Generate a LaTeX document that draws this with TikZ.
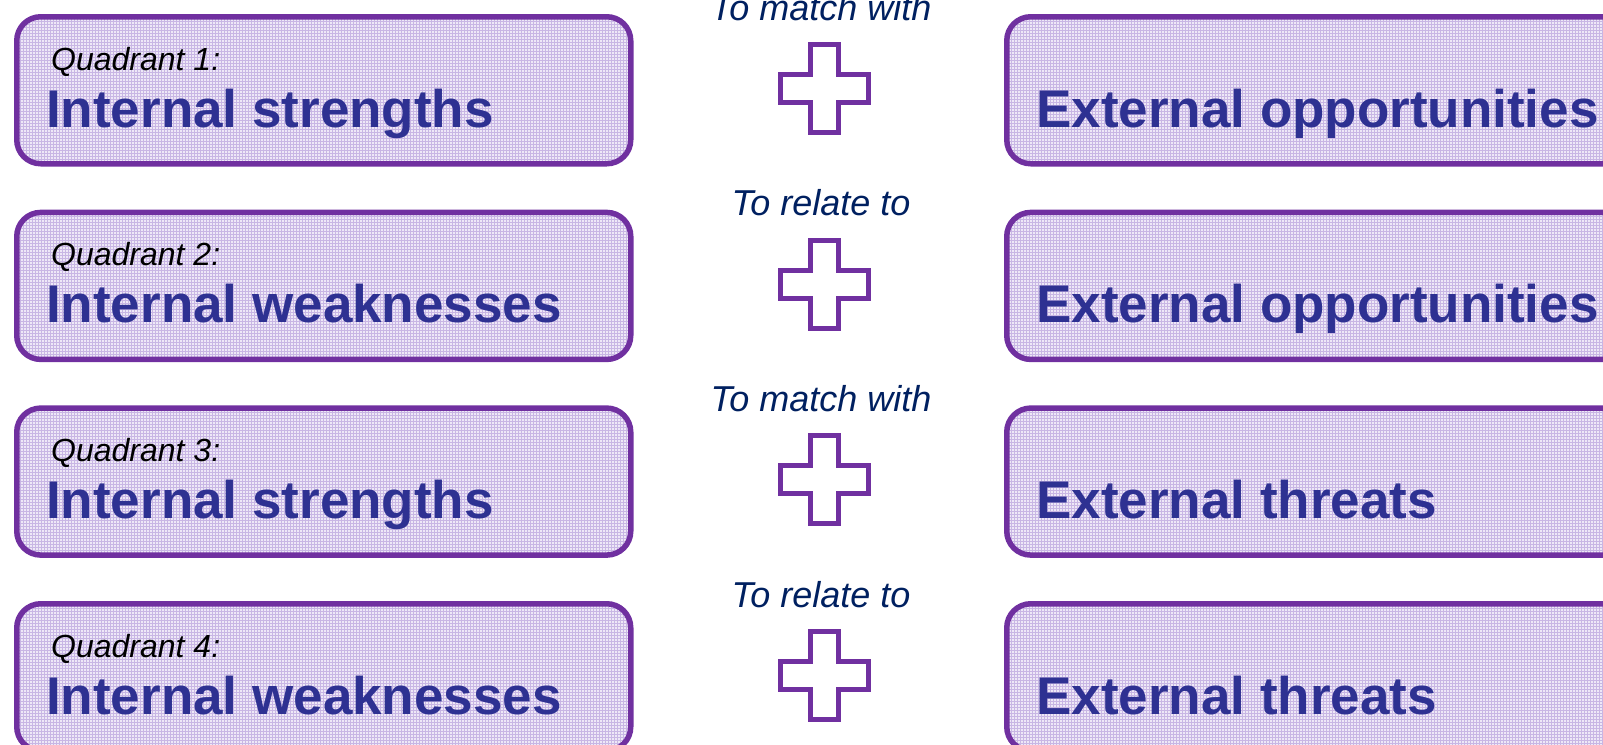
\documentclass[tikz,border=0pt]{standalone}
\usepackage{fontspec}
\setmainfont{Liberation Sans}
\definecolor{boxpurple}{RGB}{112,48,160}
\definecolor{boxfill}{RGB}{238,232,247}
\definecolor{gridc}{RGB}{200,182,228}
\definecolor{maintext}{RGB}{46,49,146}
\definecolor{labeltext}{RGB}{0,32,96}
\tikzset{
  qbox/.style={draw=boxpurple, line width=5.5pt, rounded corners=24pt, fill=boxfill,
    anchor=north west, inner sep=0pt, minimum height=147pt,
    path picture={\draw[gridc, line width=0.9pt] (path picture bounding box.south west) grid[step=3pt] (path picture bounding box.north east);}},
  quadtxt/.style={anchor=base west, inner sep=0pt, font=\fontsize{32}{36}\selectfont\itshape, text=black},
  bigtxt/.style={anchor=base west, inner sep=0pt, font=\fontsize{53}{60}\selectfont\bfseries, text=maintext},
  linktxt/.style={anchor=base, inner sep=0pt, font=\fontsize{36}{42}\selectfont\itshape, text=labeltext},
  plusline/.style={draw=boxpurple, line width=5pt, fill=white, miter limit=10}
}
\begin{document}
\begin{tikzpicture}[x=1pt,y=-1pt]
\useasboundingbox (0,0) rectangle (1603,744);
% left boxes
\node[qbox, minimum width=614pt] (L1) at (14,14) {};
\node[qbox, minimum width=614pt] (L2) at (14,209.67) {};
\node[qbox, minimum width=614pt] (L3) at (14,405.33) {};
\node[qbox, minimum width=614pt] (L4) at (14,601) {};
% right boxes
\node[qbox, minimum width=640pt] (R1) at (1004,14) {};
\node[qbox, minimum width=640pt] (R2) at (1004,209.67) {};
\node[qbox, minimum width=640pt] (R3) at (1004,405.33) {};
\node[qbox, minimum width=640pt] (R4) at (1004,601) {};
% texts
\node[quadtxt] (q1) at (51,70) {Quadrant 1:};
\node[quadtxt] (q2) at (51,265.67) {Quadrant 2:};
\node[quadtxt] (q3) at (51,461.33) {Quadrant 3:};
\node[quadtxt] (q4) at (51,657) {Quadrant 4:};
\node[bigtxt] (t1) at (46,127) {Internal strengths};
\node[bigtxt] (t2) at (46,322.67) {Internal weaknesses};
\node[bigtxt] (t3) at (46,518.33) {Internal strengths};
\node[bigtxt] (t4) at (46,714) {Internal weaknesses};
\node[bigtxt] (e1) at (1036,127) {External opportunities};
\node[bigtxt] (e2) at (1036,322.67) {External opportunities};
\node[bigtxt] (e3) at (1036,518.33) {External threats};
\node[bigtxt] (e4) at (1036,714) {External threats};
% link labels
\node[linktxt] (m1) at (821,20) {To match with};
\node[linktxt] (m2) at (821,215.67) {To relate to};
\node[linktxt] (m3) at (821,411.33) {To match with};
\node[linktxt] (m4) at (821,607) {To relate to};
% plus signs
\foreach \cy in {88.5,284.17,479.83,675.5}{
  \draw[plusline] (810,\cy-44) -- (838,\cy-44) -- (838,\cy-14) -- (868,\cy-14)
    -- (868,\cy+14) -- (838,\cy+14) -- (838,\cy+44) -- (810,\cy+44)
    -- (810,\cy+14) -- (780,\cy+14) -- (780,\cy-14) -- (810,\cy-14) -- cycle;
}
\end{tikzpicture}
\end{document}
